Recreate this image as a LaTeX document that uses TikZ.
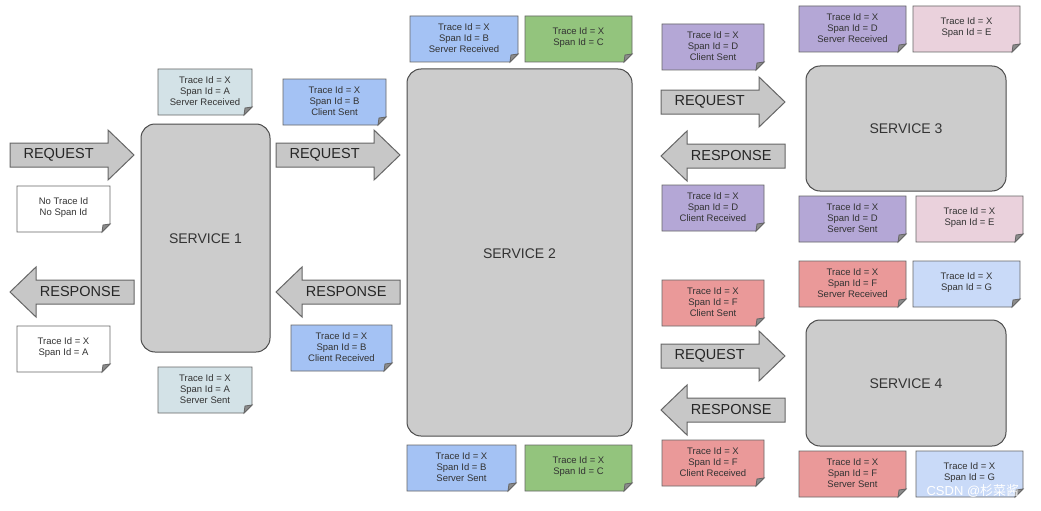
\documentclass[tikz,border=0pt]{standalone}
\usepackage{fontspec}
\setmainfont{Liberation Sans}
\newfontfamily\cjk{Noto Sans CJK SC}
\begin{document}
\begin{tikzpicture}[x=1pt,y=-1pt,
  svc/.style={draw=black!70,line width=1pt,fill=black!20,rounded corners=14pt},
  svctxt/.style={font=\fontsize{14}{16}\selectfont,text=black!80},
  notetxt/.style={font=\fontsize{9.5}{11}\selectfont,text=black!80,align=center},
  arr/.style={draw=black!60,line width=1pt,fill=black!22},
  arrtxt/.style={font=\fontsize{14.5}{16}\selectfont,text=black!85}]
\useasboundingbox (0,0) rectangle (1041,511);
\fill[white] (0,0) rectangle (1041,511);
\newcommand\mynote[6]{%
  \fill[#5] (#2,#3) -- (#4,#3) -- (#4,#3+46-8) -- (#4-8,#3+46) -- (#2,#3+46) -- cycle;
  \draw[black!60,line width=0.8pt] (#2,#3) -- (#4,#3) -- (#4,#3+46-8) -- (#4-8,#3+46) -- (#2,#3+46) -- cycle;
  \draw[black!60,line width=0.8pt,fill=black!45] (#4,#3+46-8) -- (#4-7,#3+46-7) -- (#4-8,#3+46) -- cycle;
  \node[notetxt] (#1) at ({(#2+#4)/2},#3+22) {#6};}
\newcommand\rarr[5]{% name x1 x2 ymid label
  \draw[arr] (#2,#4-12) -- (#3-26,#4-12) -- (#3-26,#4-25) -- (#3,#4) -- (#3-26,#4+25) -- (#3-26,#4+12) -- (#2,#4+12) -- cycle;
  \node[arrtxt,anchor=west] (#1) at (#2+10,#4) {#5};}
\newcommand\larr[5]{%
  \draw[arr] (#3,#4-12) -- (#2+26,#4-12) -- (#2+26,#4-25) -- (#2,#4) -- (#2+26,#4+25) -- (#2+26,#4+12) -- (#3,#4+12) -- cycle;
  \node[arrtxt,anchor=east] (#1) at (#3-10,#4) {#5};}
\definecolor{cg}{HTML}{D3E2E7}
\definecolor{cb}{HTML}{A4C2F4}
\definecolor{cgr}{HTML}{93C47D}
\definecolor{cp}{HTML}{B4A7D6}
\definecolor{cpk}{HTML}{EAD1DC}
\definecolor{cr}{HTML}{EA9999}
\definecolor{clb}{HTML}{C9DAF8}
% services
\draw[svc] (141,124) rectangle (270,352); \node[svctxt] (s1) at (205.5,239) {SERVICE 1};
\draw[svc] (407,69) rectangle (632,436); \node[svctxt] (s2) at (519.5,254) {SERVICE 2};
\draw[svc] (806,66) rectangle (1006,191); \node[svctxt] (s3) at (906,129) {SERVICE 3};
\draw[svc] (806,320) rectangle (1006,446); \node[svctxt] (s4) at (906,384) {SERVICE 4};
% arrows
\rarr{q1}{10}{134}{155}{REQUEST}
\larr{r1}{10}{134}{292}{RESPONSE}
\rarr{q2}{276}{400}{155}{REQUEST}
\larr{r2}{276}{400}{292}{RESPONSE}
\rarr{q3}{661}{785}{102}{REQUEST}
\larr{r3}{661}{785}{156}{RESPONSE}
\rarr{q4}{661}{785}{356}{REQUEST}
\larr{r4}{661}{785}{410}{RESPONSE}
% notes
\mynote{n1}{158}{69}{252}{cg}{Trace Id = X\\Span Id = A\\Server Received}
\mynote{n2}{17}{186}{110}{white}{No Trace Id\\No Span Id}
\mynote{n3}{17}{326}{110}{white}{Trace Id = X\\Span Id = A}
\mynote{n4}{158}{367}{252}{cg}{Trace Id = X\\Span Id = A\\Server Sent}
\mynote{n5}{283}{79}{386}{cb}{Trace Id = X\\Span Id = B\\Client Sent}
\mynote{n6}{291}{325}{392}{cb}{Trace Id = X\\Span Id = B\\Client Received}
\mynote{n7}{410}{16}{518}{cb}{Trace Id = X\\Span Id = B\\Server Received}
\mynote{n8}{525}{16}{632}{cgr}{Trace Id = X\\Span Id = C}
\mynote{n9}{407}{445}{516}{cb}{Trace Id = X\\Span Id = B\\Server Sent}
\mynote{n10}{525}{445}{632}{cgr}{Trace Id = X\\Span Id = C}
\mynote{n11}{662}{24}{764}{cp}{Trace Id = X\\Span Id = D\\Client Sent}
\mynote{n12}{662}{185}{764}{cp}{Trace Id = X\\Span Id = D\\Client Received}
\mynote{n13}{799}{6}{906}{cp}{Trace Id = X\\Span Id = D\\Server Received}
\mynote{n14}{913}{6}{1020}{cpk}{Trace Id = X\\Span Id = E}
\mynote{n15}{799}{196}{906}{cp}{Trace Id = X\\Span Id = D\\Server Sent}
\mynote{n16}{916}{196}{1023}{cpk}{Trace Id = X\\Span Id = E}
\mynote{n17}{662}{280}{764}{cr}{Trace Id = X\\Span Id = F\\Client Sent}
\mynote{n18}{662}{440}{764}{cr}{Trace Id = X\\Span Id = F\\Client Received}
\mynote{n19}{799}{261}{906}{cr}{Trace Id = X\\Span Id = F\\Server Received}
\mynote{n20}{913}{261}{1020}{clb}{Trace Id = X\\Span Id = G}
\mynote{n21}{799}{451}{906}{cr}{Trace Id = X\\Span Id = F\\Server Sent}
\mynote{n22}{916}{451}{1023}{clb}{Trace Id = X\\Span Id = G}
\node[font=\fontsize{13}{14}\selectfont,text=white,anchor=east] (wm) at (1030,491) {CSDN @{\cjk 杉菜酱}\_};
\end{tikzpicture}
\end{document}
